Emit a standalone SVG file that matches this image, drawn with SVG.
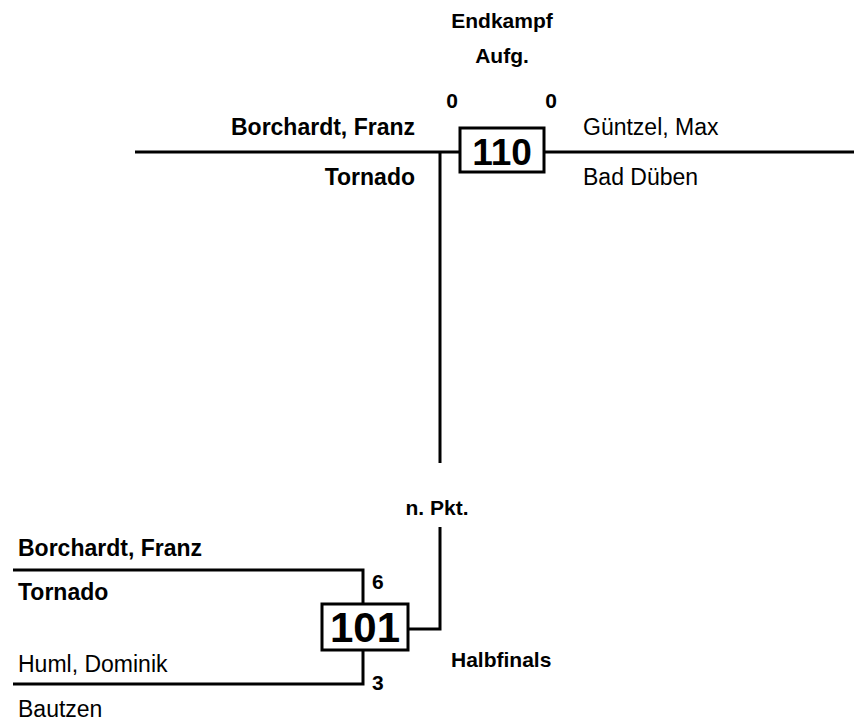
<svg xmlns="http://www.w3.org/2000/svg" width="854" height="723" viewBox="0 0 854 723">
<style>
text{font-family:"Liberation Sans",Arial,sans-serif;fill:#000}
.b{font-weight:bold}
.nm{font-size:23px}
.sm{font-size:21px;font-weight:bold}
.ln{stroke:#000;stroke-width:3;fill:none}
.box{stroke:#000;stroke-width:3;fill:#fff}
</style>
<rect width="854" height="723" fill="#fff"/>
<g id="connectors">
<path class="ln" d="M135,152H460M544,152H854"/>
<path class="ln" d="M440,152V463M440,527V629H408"/>
<path class="ln" d="M13,570H363V604M13,684H363V650"/>
</g>
<g id="final">
<text class="sm" x="502" y="28" text-anchor="middle">Endkampf</text>
<text class="sm" x="502" y="63" text-anchor="middle">Aufg.</text>
<text class="sm" x="452" y="108" text-anchor="middle">0</text>
<text class="sm" x="551" y="108" text-anchor="middle">0</text>
<rect class="box" x="460" y="128" width="84" height="44"/>
<text class="b" x="502" y="165" font-size="37" text-anchor="middle">110</text>
<text class="nm b" x="415" y="135" text-anchor="end">Borchardt, Franz</text>
<text class="nm b" x="415" y="185" text-anchor="end">Tornado</text>
<text class="nm" x="583" y="135">Güntzel, Max</text>
<text class="nm" x="583" y="185">Bad Düben</text>
<text class="sm" x="437" y="515" text-anchor="middle">n. Pkt.</text>
</g>
<g id="semifinal">
<rect class="box" x="322" y="604" width="86" height="46"/>
<text class="b" x="365" y="642" font-size="42" text-anchor="middle">101</text>
<text class="nm b" x="18" y="556">Borchardt, Franz</text>
<text class="nm b" x="18" y="600">Tornado</text>
<text class="nm" x="18" y="672">Huml, Dominik</text>
<text class="nm" x="18" y="717">Bautzen</text>
<text class="sm" x="372" y="589">6</text>
<text class="sm" x="372" y="690">3</text>
<text class="sm" x="451" y="667">Halbfinals</text>
</g>
</svg>
